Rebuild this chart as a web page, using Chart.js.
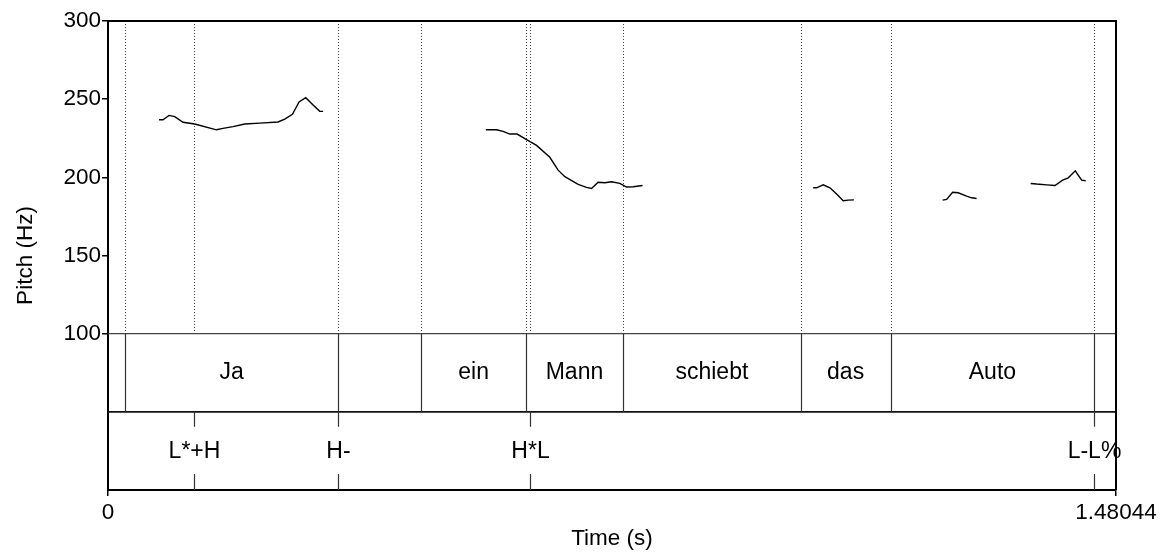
<!DOCTYPE html>
<html>
<head>
<meta charset="utf-8">
<script src="https://cdn.jsdelivr.net/npm/chart.js@4/dist/chart.umd.min.js"></script>
<style>
  html, body { margin: 0; padding: 0; background: #fff; }
  #wrap { width: 1162px; height: 552px; position: relative; }
</style>
</head>
<body>
<div id="wrap"><canvas id="pitchChart"></canvas></div>
<script>
'use strict'

// pitch contour pieces (time in s, pitch in Hz)
var jaTime = [0.0749, 0.0808, 0.0896, 0.0980, 0.1102, 0.1274, 0.1593, 0.1689, 0.1836, 0.2008, 0.2229, 0.2497, 0.2596, 0.2709, 0.2806, 0.2904, 0.3012, 0.3110, 0.3159];
var jaPitch = [236.8, 236.8, 239.6, 238.8, 235.2, 234.1, 230.4, 231.3, 232.4, 234.1, 234.7, 235.4, 237.3, 240.3, 248.2, 250.9, 246.2, 242.2, 242.2];

var mannTime = [0.5549, 0.5706, 0.5803, 0.5901, 0.6009, 0.6122, 0.6294, 0.6489, 0.6611, 0.6710, 0.6905, 0.7028, 0.7102, 0.7198, 0.7297, 0.7395, 0.7517, 0.7616, 0.7713, 0.7851];
var mannPitch = [230.4, 230.4, 229.4, 227.7, 227.7, 224.7, 220.4, 212.8, 204.6, 200.4, 195.5, 193.6, 192.9, 196.9, 196.5, 197.2, 196.1, 193.8, 194.0, 194.8];

var dasTime = [1.0357, 1.0407, 1.0504, 1.0603, 1.0701, 1.0798, 1.0871, 1.0955];
var dasPitch = [193.3, 193.3, 195.2, 193.3, 189.3, 185.0, 185.4, 185.6];

var autoTime1 = [1.2258, 1.2317, 1.2405, 1.2487, 1.2610, 1.2684, 1.2757];
var autoPitch1 = [185.4, 185.9, 190.4, 190.1, 188.0, 186.9, 186.5];

var autoTime2 = [1.3551, 1.3639, 1.3786, 1.3908, 1.4021, 1.4103, 1.4206, 1.4300, 1.4359];
var autoPitch2 = [196.1, 195.7, 195.2, 194.8, 198.2, 199.7, 204.2, 198.2, 197.8];

// word tier
var wordBounds = [0, 0.0256, 0.3374, 0.4604, 0.6136, 0.7566, 1.0172, 1.1494, 1.4485, 1.48044];
var words = ['', 'Ja', '', 'ein', 'Mann', 'schiebt', 'das', 'Auto', ''];

// tone tier
var toneTimes = [0.1269, 0.3374, 0.6200, 1.4485];
var tones = ['L*+H', 'H-', 'H*L', 'L-L%'];

var xTicks = [0, 1.48044];
var yTicks = [100, 150, 200, 250, 300];

var FONT = "'Liberation Sans', Arial, sans-serif";
Chart.defaults.font.family = FONT;
Chart.defaults.font.size = 22.5;
Chart.defaults.color = '#000';

function toPoints(ts, vs) {
  return ts.map(function(t, i) { return { x: t, y: vs[i] }; });
}

function contour(ts, vs) {
  return {
    data: toPoints(ts, vs),
    borderColor: '#000',
    borderWidth: 1.4,
    pointRadius: 0,
    tension: 0,
    fill: false
  };
}

// tiers, boundaries and frame
var tierPlugin = {
  id: 'tiers',
  afterDatasetsDraw: function(chart) {
    var c = chart.ctx;
    var xs = chart.scales.x, ys = chart.scales.y;
    var area = chart.chartArea;
    var yTop = ys.getPixelForValue(300);
    var y100 = ys.getPixelForValue(100);
    var y50 = ys.getPixelForValue(50);
    var y0 = ys.getPixelForValue(0);
    c.save();

    // dotted lines through pitch area
    c.strokeStyle = '#444';
    c.lineWidth = 1;
    c.setLineDash([1, 2]);
    var marks = wordBounds.slice(1, -1).concat(toneTimes);
    marks.forEach(function(t) {
      var px = Math.round(xs.getPixelForValue(t)) + 0.5;
      c.beginPath();
      c.moveTo(px, yTop);
      c.lineTo(px, y100);
      c.stroke();
    });
    c.setLineDash([]);

    // tier separators
    c.strokeStyle = '#444';
    c.lineWidth = 1.2;
    c.beginPath();
    c.moveTo(area.left, y100);
    c.lineTo(area.right, y100);
    c.stroke();
    c.strokeStyle = '#111';
    c.lineWidth = 1.6;
    c.beginPath();
    c.moveTo(area.left, y50);
    c.lineTo(area.right, y50);
    c.stroke();

    // word tier
    c.strokeStyle = '#333';
    c.lineWidth = 1.2;
    wordBounds.slice(1, -1).forEach(function(t) {
      var px = Math.round(xs.getPixelForValue(t)) + 0.5;
      c.beginPath();
      c.moveTo(px, y100);
      c.lineTo(px, y50);
      c.stroke();
    });
    c.fillStyle = '#000';
    c.font = '23px ' + FONT;
    c.textAlign = 'center';
    c.textBaseline = 'middle';
    words.forEach(function(w, i) {
      if (!w) return;
      var mid = (xs.getPixelForValue(wordBounds[i]) + xs.getPixelForValue(wordBounds[i + 1])) / 2;
      c.fillText(w, mid, (y100 + y50) / 2);
    });

    // tone tier
    var yMid = (y50 + y0) / 2;
    toneTimes.forEach(function(t, i) {
      var px = Math.round(xs.getPixelForValue(t)) + 0.5;
      c.beginPath();
      c.moveTo(px, y50);
      c.lineTo(px, y50 + 15);
      c.moveTo(px, y0 - 16);
      c.lineTo(px, y0);
      c.stroke();
      c.fillText(tones[i], px, yMid + 1);
    });

    // top and right frame
    c.strokeStyle = '#000';
    c.lineWidth = 2;
    c.beginPath();
    c.moveTo(area.left, area.top);
    c.lineTo(area.right, area.top);
    c.lineTo(area.right, area.bottom);
    c.stroke();
    c.restore();
  }
};

var ctx = document.getElementById('pitchChart');

var chart = new Chart(ctx, {
  type: 'line',
  data: {
    datasets: [
      contour(jaTime, jaPitch),
      contour(mannTime, mannPitch),
      contour(dasTime, dasPitch),
      contour(autoTime1, autoPitch1),
      contour(autoTime2, autoPitch2)
    ]
  },
  options: {
    responsive: true,
    maintainAspectRatio: false,
    animation: false,
    events: [],
    layout: { padding: { top: 21, right: 46, left: 0, bottom: 0 } },
    plugins: { legend: { display: false }, tooltip: { enabled: false } },
    scales: {
      x: {
        type: 'linear',
        min: 0,
        max: 1.48044,
        afterBuildTicks: function(scale) {
          scale.ticks = xTicks.map(function(v) { return { value: v }; });
        },
        afterFit: function(scale) { scale.height = 62; },
        ticks: {
          autoSkip: false,
          maxRotation: 0,
          padding: 3,
          callback: function(v) { return String(v); }
        },
        grid: { drawOnChartArea: false, drawTicks: true, tickLength: 6, color: '#000', lineWidth: 1.5 },
        border: { display: true, color: '#000', width: 2 },
        title: { display: true, text: 'Time (s)', padding: { top: 0, bottom: 0 } }
      },
      y: {
        type: 'linear',
        min: 0,
        max: 300,
        afterBuildTicks: function(scale) {
          scale.ticks = yTicks.map(function(v) { return { value: v }; });
        },
        afterFit: function(scale) { scale.width = 108; },
        ticks: { padding: 1 },
        grid: { drawOnChartArea: false, drawTicks: true, tickLength: 6, color: '#000', lineWidth: 1.5 },
        border: { display: true, color: '#000', width: 2 },
        title: { display: true, text: 'Pitch (Hz)', padding: { top: 12, bottom: 0 } }
      }
    }
  },
  plugins: [tierPlugin]
});
</script>
</body>
</html>
